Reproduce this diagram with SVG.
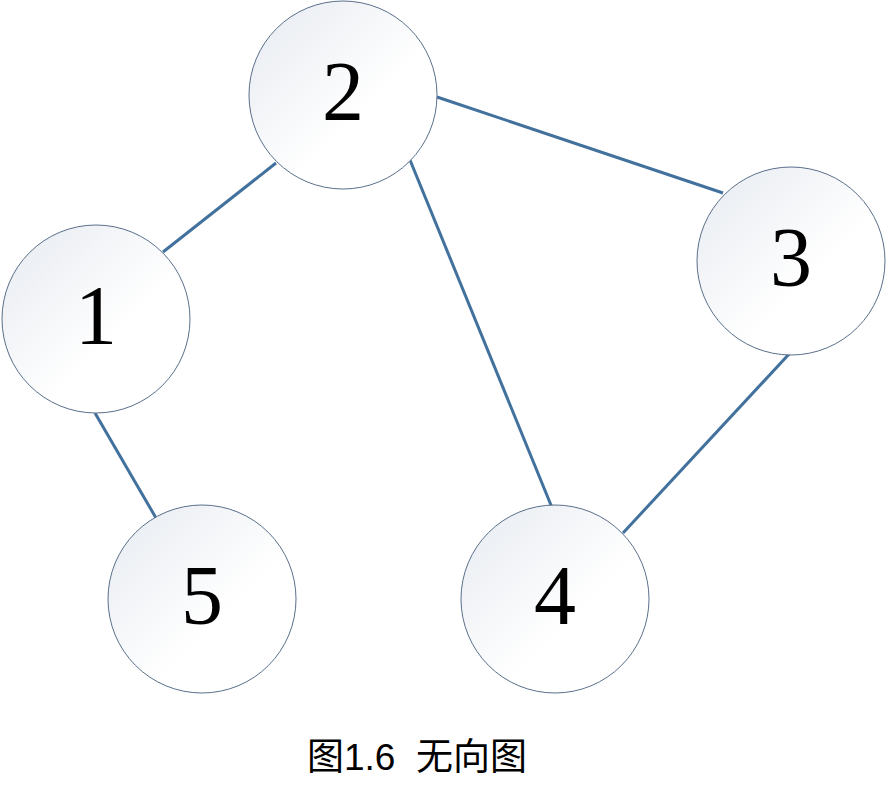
<svg xmlns="http://www.w3.org/2000/svg" width="887" height="801" viewBox="0 0 887 801">
<style>
.edge{stroke:#41719c;stroke-width:3;fill:none}
.node circle{fill:url(#g);stroke:#5a6f8a;stroke-width:1}
.node text{font-family:"Liberation Serif","Times New Roman",serif;font-size:84px;text-anchor:middle;fill:#000}
.cap{font-family:"Liberation Sans","Noto Sans CJK SC",sans-serif;font-size:37px;fill:#000}
</style>
<defs>
<linearGradient id="g" x1="0" y1="0" x2="1" y2="1">
<stop offset="0" stop-color="#e6eaf0"/>
<stop offset="0.6" stop-color="#ffffff"/>
<stop offset="1" stop-color="#ffffff"/>
</linearGradient>
</defs>
<rect width="887" height="801" fill="#fff"/>
<g id="edges">
<line class="edge" x1="163" y1="252" x2="276" y2="163"/>
<line class="edge" x1="437" y1="97" x2="723" y2="193"/>
<line class="edge" x1="410" y1="160" x2="553" y2="510"/>
<line class="edge" x1="790" y1="353" x2="623" y2="533"/>
<line class="edge" x1="95" y1="413" x2="156" y2="518"/>
</g>
<g id="n2" class="node"><circle cx="343" cy="95" r="94"/><text x="343" y="120">2</text></g>
<g id="n1" class="node"><circle cx="96" cy="319" r="94"/><text x="96" y="344">1</text></g>
<g id="n3" class="node"><circle cx="791" cy="261" r="94"/><text x="791" y="286">3</text></g>
<g id="n5" class="node"><circle cx="202" cy="599" r="94"/><text x="202" y="624">5</text></g>
<g id="n4" class="node"><circle cx="555" cy="599" r="94"/><text x="555" y="624">4</text></g>
<text class="cap" x="307" y="770" xml:space="preserve">图1.6  无向图</text>
</svg>
